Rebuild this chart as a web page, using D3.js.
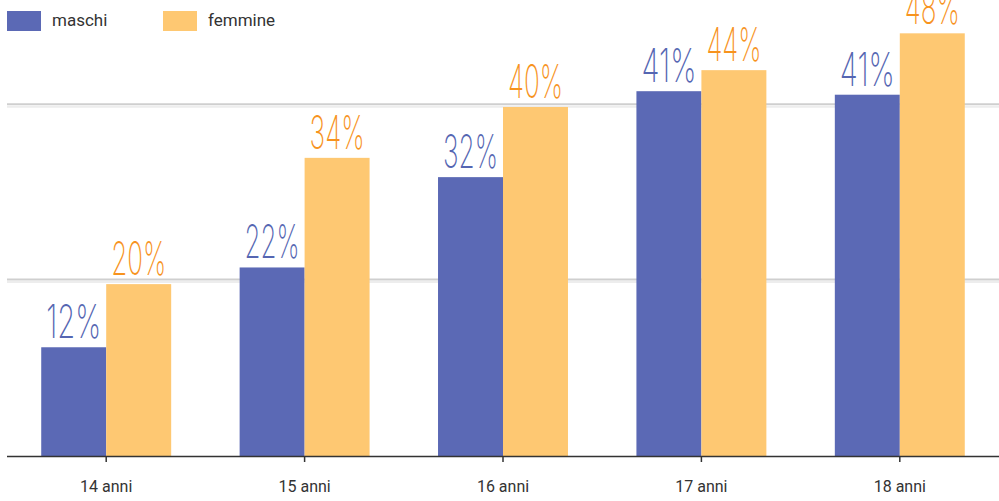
<!DOCTYPE html>
<html><head><meta charset="utf-8">
<script src="https://cdn.jsdelivr.net/npm/d3@7"></script>
<style>body{margin:0;background:#fff}svg{display:block}</style>
</head><body>
<script>
const categories = ["14 anni","15 anni","16 anni","17 anni","18 anni"];
const seriesNames = ["maschi","femmine"];
const maschi = [12.4, 21.5, 31.8, 41.6, 41.2];
const femmine = [19.6, 34, 39.8, 44, 48.2];
const maschiLabels = ["12%","22%","32%","41%","41%"];
const femmineLabels = ["20%","34%","40%","44%","48%"];
const gridTicks = [20, 40];

const W = 999, H = 501;
const colors = {maschi:"#5b69b5", femmine:"#fec872"};
const labelColors = {maschi:"#5566b2", femmine:"#f7931e"};

const svg = d3.select("body").append("svg").attr("width",W).attr("height",H);

const x = d3.scaleBand().domain(categories).range([7,999]).paddingInner(0.345).paddingOuter(0.1725);
const xs = d3.scaleBand().domain(seriesNames).range([0,x.bandwidth()]);
const y = d3.scaleLinear().domain([0,52]).range([456,0]);

// gridlines
const g = svg.append("g");
gridTicks.forEach(t=>{
  g.append("line").attr("x1",7).attr("x2",999).attr("y1",y(t)-1).attr("y2",y(t)-1).attr("stroke","#cfcfcf").attr("stroke-width",2);
  g.append("line").attr("x1",7).attr("x2",999).attr("y1",y(t)+1.5).attr("y2",y(t)+1.5).attr("stroke","#ededed").attr("stroke-width",2);
});

const data = categories.map((c,i)=>({cat:c, vals:[
  {s:"maschi", v:maschi[i], lab:maschiLabels[i]},
  {s:"femmine", v:femmine[i], lab:femmineLabels[i]}]}));

const groups = svg.selectAll("g.grp").data(data).enter().append("g").attr("class","grp")
  .attr("transform",d=>`translate(${x(d.cat)},0)`);

groups.selectAll("rect").data(d=>d.vals).enter().append("rect")
  .attr("x",d=>xs(d.s)).attr("width",xs.bandwidth())
  .attr("y",d=>y(d.v)).attr("height",d=>y(0)-y(d.v))
  .attr("fill",d=>colors[d.s]);

groups.selectAll("text.lab").data(d=>d.vals).enter().append("text").attr("class","lab")
  .attr("x",d=>xs(d.s)+xs.bandwidth()/2)
  .attr("y",d=>y(d.v)-9)
  .attr("text-anchor","middle")
  .attr("font-family","Inter, 'Open Sans', sans-serif")
  .attr("font-weight",200)
  .attr("font-size",46)
  .attr("textLength",55).attr("lengthAdjust","spacingAndGlyphs")
  .attr("fill",d=>labelColors[d.s])
  .text(d=>d.lab);

// axis
const axis = svg.append("g").attr("transform",`translate(0,${y(0)})`)
  .call(d3.axisBottom(x).tickSize(6).tickSizeOuter(0));
axis.select(".domain").attr("stroke","#333").attr("stroke-width",1.5).attr("d","M7,0.5H999");
axis.selectAll(".tick line").attr("stroke","#333").attr("stroke-width",1.5);
axis.selectAll(".tick text").attr("font-family","Roboto, sans-serif").attr("font-size",16).attr("fill","#333").attr("dy","1.7em");

// legend
const leg = svg.append("g");
const legItems = [{s:"maschi",x:7},{s:"femmine",x:163}];
legItems.forEach(it=>{
  leg.append("rect").attr("x",it.x).attr("y",11).attr("width",34).attr("height",20).attr("fill",colors[it.s]);
  leg.append("text").attr("x",it.x+45).attr("y",26).attr("font-family","Roboto, sans-serif").attr("font-size",17).attr("fill","#333").text(it.s);
});
</script>
</body></html>
